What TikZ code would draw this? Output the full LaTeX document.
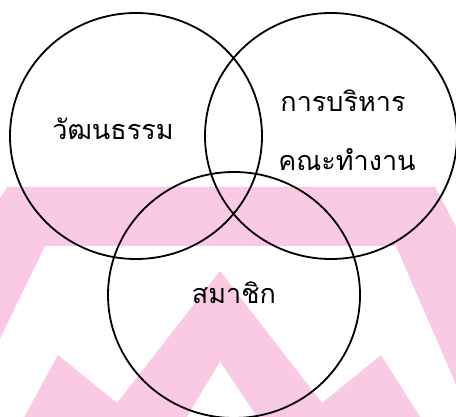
\documentclass[tikz,border=0pt]{standalone}
\usepackage{fontspec}
\newfontfamily\thaifont[Script=Thai]{Loma}
\usetikzlibrary{shapes.geometric}
\definecolor{wmpink}{RGB}{250,202,228}
\tikzset{
  venn/.style={draw=black, line width=1.8pt, ellipse, inner sep=0pt,
    minimum width=252pt, minimum height=246pt},
  lbl/.style={font=\thaifont\fontsize{27}{30}\selectfont, text=black, inner sep=0pt}
}
\begin{document}
\begin{tikzpicture}[x=1pt,y=-1pt]
\useasboundingbox (0,0) rectangle (456,417);
\begin{scope}
\clip (0,0) rectangle (456,417);
% watermark: top band with legs
\fill[wmpink] (7,187) -- (435,187) -- (480,272) -- (480,440) -- (396,246)
  -- (45,246) -- (-20,380) -- (-20,230) -- cycle;
% watermark: zigzag
\fill[wmpink] (-10,480) -- (58,355) -- (117,403) -- (220,271) -- (322,403)
  -- (381,355) -- (460,480) -- (257,417) -- (220,362) -- (187,417) -- cycle;
\fill[white] (187,417) -- (220,362) -- (257,417) -- (260,430) -- (184,430) -- cycle;
\end{scope}
\node[venn] (cult) at (136,136) {};
\node[venn] (admin) at (331,136) {};
\node[venn] (memb) at (234,295) {};
\node[lbl] (tcult) at (113,129) {วัฒนธรรม};
\node[lbl] (tadm1) at (343,101) {การบริหาร};
\node[lbl] (tadm2) at (347,160) {คณะทำงาน};
\node[lbl] (tmemb) at (234,293) {สมาชิก};
\end{tikzpicture}
\end{document}
